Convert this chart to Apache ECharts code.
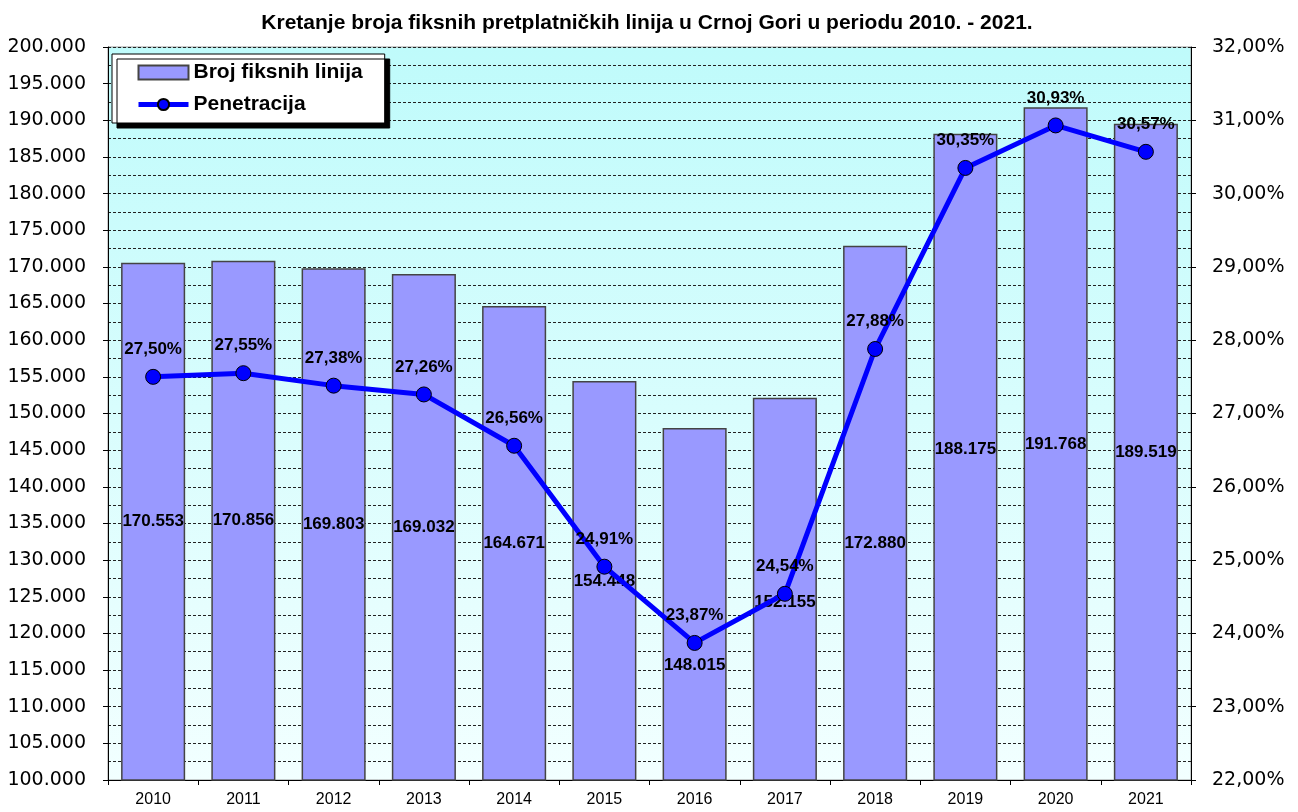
<!DOCTYPE html>
<html>
<head>
<meta charset="utf-8">
<script src="https://cdn.jsdelivr.net/npm/echarts@6/dist/echarts.min.js"></script>
<style>
  html, body { margin: 0; padding: 0; background: #fff; }
  #chart { width: 1298px; height: 812px; }
</style>
</head>
<body>
<div id="chart"></div>
<script>
// podaci
const years = ['2010', '2011', '2012', '2013', '2014', '2015', '2016', '2017', '2018', '2019', '2020', '2021'];
const brojLinija = [170553, 170856, 169803, 169032, 164671, 154448, 148015, 152155, 172880, 188175, 191768, 189519];
const penetracija = [27.50, 27.55, 27.38, 27.26, 26.56, 24.91, 23.87, 24.54, 27.88, 30.35, 30.93, 30.57];

// labels moved by hand in the original (px down from bar middle)
const labelNudge = { '2016': 61, '2017': 13, '2018': 30, '2019': -8 };

const fmtThousands = v => String(v).replace(/\B(?=(\d{3})+(?!\d))/g, '.');
const fmtPct = v => v.toFixed(2).replace('.', ',') + '%';

const chart = echarts.init(document.getElementById('chart'));
chart.setOption({
  animation: false,
  title: {
    text: 'Kretanje broja fiksnih pretplatničkih linija u Crnoj Gori u periodu 2010. - 2021.',
    left: 642, textAlign: 'center', top: 8,
    textStyle: { fontFamily: 'Liberation Sans Narrow, Liberation Sans', fontSize: 21, fontWeight: 'bold', color: '#000' }
  },
  legend: {
    left: 112, top: 54, orient: 'vertical',
    padding: [8, 22, 8, 24], itemGap: 11,
    itemWidth: 50, itemHeight: 14,
    backgroundColor: '#fff', borderColor: '#000', borderWidth: 1,
    shadowColor: '#000', shadowBlur: 0, shadowOffsetX: 5, shadowOffsetY: 5,
    lineStyle: { width: 5 },
    textStyle: { fontFamily: 'Liberation Sans Narrow, Liberation Sans', fontSize: 21, fontWeight: 'bold', color: '#000' },
    data: [{ name: 'Broj fiksnih linija', icon: 'rect' }, { name: 'Penetracija' }]
  },
  grid: {
    left: 108, right: 107, top: 47, bottom: 32,
    show: true, borderColor: '#999', borderWidth: 1,
    backgroundColor: {
      type: 'linear', x: 0, y: 0, x2: 0, y2: 1,
      colorStops: [{ offset: 0, color: '#bffbfb' }, { offset: 1, color: '#f2ffff' }]
    }
  },
  xAxis: {
    type: 'category', data: years,
    axisLine: { lineStyle: { color: '#000', width: 1 } },
    axisTick: { show: true, alignWithLabel: false, length: 5, lineStyle: { color: '#000' } },
    axisLabel: { color: '#000', fontFamily: 'Liberation Sans', fontSize: 16, margin: 12 }
  },
  yAxis: [
    {
      type: 'value', min: 100000, max: 200000, interval: 5000,
      axisLine: { show: true, lineStyle: { color: '#000' } },
      axisTick: { show: true, length: 5, lineStyle: { color: '#000' } },
      axisLabel: { color: '#000', fontFamily: 'DejaVu Sans', fontSize: 19, margin: 22, formatter: fmtThousands },
      splitLine: { show: true, lineStyle: { color: '#222', type: [3, 2], width: 1 } },
      minorTick: { show: false, splitNumber: 2 },
      minorSplitLine: { show: true, lineStyle: { color: '#222', type: [3, 2], width: 1 } }
    },
    {
      type: 'value', min: 22, max: 32, interval: 1, position: 'right',
      axisLine: { show: true, lineStyle: { color: '#000' } },
      axisTick: { show: true, length: 5, lineStyle: { color: '#000' } },
      axisLabel: { color: '#000', fontFamily: 'DejaVu Sans', fontSize: 19, margin: 21, formatter: fmtPct },
      splitLine: { show: false }
    }
  ],
  series: [
    {
      name: 'Broj fiksnih linija', type: 'bar', yAxisIndex: 0,
      barCategoryGap: '29%',
      itemStyle: { color: '#9999ff', borderColor: '#444', borderWidth: 1.5 },
      label: {
        show: true, position: 'inside', color: '#000',
        fontFamily: 'Liberation Sans', fontSize: 17, fontWeight: 'bold',
        formatter: p => fmtThousands(p.value)
      },
      data: brojLinija.map((v, i) => ({
        value: v,
        label: { offset: [0, labelNudge[years[i]] || 0] }
      }))
    },
    {
      name: 'Penetracija', type: 'line', yAxisIndex: 1,
      lineStyle: { color: '#0000ff', width: 5 },
      itemStyle: { color: '#0000ff', borderColor: '#000', borderWidth: 1 },
      symbol: 'circle', symbolSize: 15,
      label: {
        show: true, position: 'top', distance: 11, color: '#000',
        fontFamily: 'Liberation Sans', fontSize: 17, fontWeight: 'bold',
        formatter: p => fmtPct(p.value)
      },
      data: penetracija
    }
  ]
});
</script>
</body>
</html>
